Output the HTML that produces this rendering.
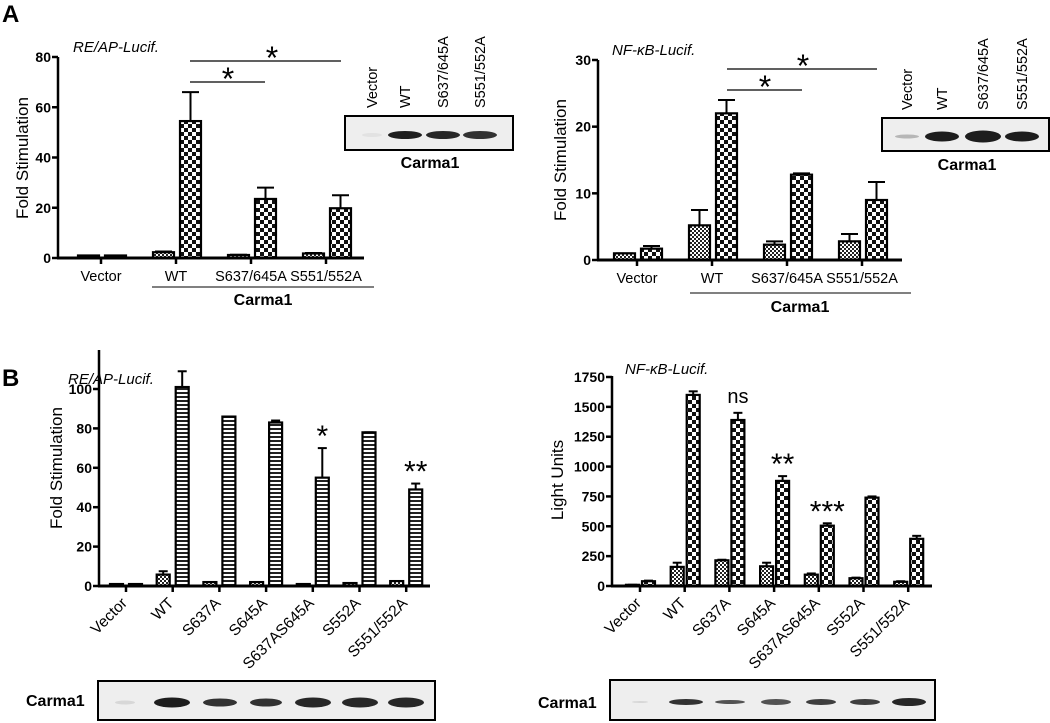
<!DOCTYPE html>
<html><head><meta charset="utf-8"><style>
body{margin:0;background:#fff;}
svg{display:block;font-family:"Liberation Sans",Arial,sans-serif;}
</style></head><body>
<svg id="fig" width="1050" height="723" viewBox="0 0 1050 723" xmlns="http://www.w3.org/2000/svg">
<defs>
<pattern id="fine" width="4" height="4" patternUnits="userSpaceOnUse"><rect width="4" height="4" fill="#fff"/><rect width="2" height="2" fill="#222"/><rect x="2" y="2" width="2" height="2" fill="#222"/></pattern>
<pattern id="check" width="8" height="8" patternUnits="userSpaceOnUse"><rect width="8" height="8" fill="#fff"/><rect width="4" height="4" fill="#111"/><rect x="4" y="4" width="4" height="4" fill="#111"/></pattern>
<pattern id="stripe" width="4" height="4" patternUnits="userSpaceOnUse"><rect width="4" height="4" fill="#fff"/><rect width="4" height="2" fill="#222"/></pattern>
</defs>
<text x="2" y="22" font-size="24" font-weight="bold">A</text>
<text x="2" y="386" font-size="24" font-weight="bold">B</text>
</svg>
<script>
// ---- Chart A1 data ----
const a1Cats = ["Vector","WT","S637/645A","S551/552A"];
const a1S1 = [1, 2.3, 1.2, 1.8];
const a1S1Err = [1, 2.6, 1.3, 2.0];
const a1S2 = [1, 54.5, 23.5, 19.8];
const a1S2Err = [1, 66, 28, 25];
const a1Ticks = [0,20,40,60,80];
// ---- Chart A2 data ----
const a2Cats = ["Vector","WT","S637/645A","S551/552A"];
const a2S1 = [1, 5.2, 2.3, 2.8];
const a2S1Err = [1, 7.5, 2.8, 3.9];
const a2S2 = [1.7, 22, 12.8, 9];
const a2S2Err = [2.1, 24, 13, 11.7];
const a2Ticks = [0,10,20,30];
// ---- Chart B1 data ----
const b1Cats = ["Vector","WT","S637A","S645A","S637AS645A","S552A","S551/552A"];
const b1S1 = [1, 5.8, 2, 2, 1, 1.5, 2.5];
const b1S1Err = [1, 7.5, 2, 2, 1, 1.5, 2.5];
const b1S2 = [1, 101, 86, 83, 55, 78, 49];
const b1S2Err = [1, 109, 86, 84, 70, 78, 52];
const b1Sig = ["","","","","*","","**"];
const b1Ticks = [0,20,40,60,80,100];
// ---- Chart B2 data ----
const b2Cats = ["Vector","WT","S637A","S645A","S637AS645A","S552A","S551/552A"];
const b2S1 = [10, 160, 215, 165, 95, 65, 35];
const b2S1Err = [10, 195, 220, 195, 105, 70, 40];
const b2S2 = [40, 1600, 1390, 880, 505, 740, 395];
const b2S2Err = [45, 1630, 1450, 920, 525, 750, 420];
const b2Sig = ["","","ns","**","***","",""];
const b2Ticks = [0,250,500,750,1000,1250,1500,1750];

const NS="http://www.w3.org/2000/svg";
const svg=document.getElementById('fig');
function el(tag,attrs,parent,txt){const e=document.createElementNS(NS,tag);for(const k in attrs)e.setAttribute(k,attrs[k]);if(txt!==undefined)e.textContent=txt;(parent||svg).appendChild(e);return e;}

function chart(c){
  const g=el('g',{});
  
  
  const y=v=>c.y0-(v/c.ymax)*(c.y0-c.ytop);
  const x=i=>c.x0+c.gx+i*c.gs;
  c.cats.forEach((cat,i)=>{
    const cx=x(i);
    [[c.s1,c.e1,c.p1,c.b1],[c.s2,c.e2,c.p2,c.b2]].forEach((s,k)=>{
      const [vals,errs,pat,off]=s;
      const bx=cx+off, top=y(vals[i]), ey=y(errs[i]);
      const ln=el('line',{x1:bx+c.bw/2,x2:bx+c.bw/2,y1:top,y2:ey,stroke:'#000','stroke-width':2},g);
      
      
      const cap=el('line',{x1:bx+2,x2:bx+c.bw-2,y1:ey,y2:ey,stroke:'#000','stroke-width':2},g);
      
      
      const r=el('rect',{x:bx,y:top,width:c.bw,height:Math.max(c.y0-top,1.5),fill:`url(#${pat})`,stroke:'#000','stroke-width':2.2},g);
      
      
    });
    if(c.sig&&c.sig[i]){
      const isNs=c.sig[i]==='ns';
      const t=el('text',{x:cx+c.b2+c.bw/2,y:y(c.e2[i])-(isNs?10:2),'font-size':isNs?20:30,'text-anchor':'middle'},g,c.sig[i]);
      
      
    }
    el('line',{x1:cx,x2:cx,y1:c.y0,y2:c.y0+6,stroke:'#000','stroke-width':2.5},g);
    if(c.rot){
      const t=el('text',{x:cx+2,y:c.y0+18,'font-size':15.5,'text-anchor':'end',transform:`rotate(-45 ${cx+2} ${c.y0+18})`},g,cat);
      
      
    } else {
      const t=el('text',{x:cx,y:c.y0+23,'font-size':14.5,'text-anchor':'middle'},g,cat);
      
      
    }
  });
  el('line',{x1:c.x0,x2:c.x0,y1:c.axTop,y2:c.y0+1,stroke:'#000','stroke-width':2.5},g);
  el('line',{x1:c.x0-1,x2:c.xEnd,y1:c.y0,y2:c.y0,stroke:'#000','stroke-width':3},g);
  c.ticks.forEach(v=>{
    el('line',{x1:c.x0-6,x2:c.x0,y1:y(v),y2:y(v),stroke:'#000','stroke-width':2.5},g);
    const t=el('text',{x:c.x0-7,y:y(v)+5,'font-size':14,'font-weight':'bold','text-anchor':'end'},g,v);
    
    
  });
  const yt=el('text',{x:c.ylx,y:c.yly,'font-size':17,'text-anchor':'middle',transform:`rotate(-90 ${c.ylx} ${c.yly})`},g,c.ytitle);
  
  
  const tt=el('text',{x:c.tx,y:c.ty,'font-size':15,'font-style':'italic'},g,c.title);
  
  
}

chart({name:'chart-a-reap',cats:a1Cats,s1:a1S1,e1:a1S1Err,s2:a1S2,e2:a1S2Err,ticks:a1Ticks,ymax:80,y0:258,ytop:57,axTop:57,x0:58,xEnd:364,gx:43,gs:75,bw:21,b1:-23,b2:4,p1:'fine',p2:'check',ytitle:'Fold Stimulation',ylx:28,yly:158,title:'RE/AP-Lucif.',tx:73,ty:52});
chart({name:'chart-a-nfkb',cats:a2Cats,s1:a2S1,e1:a2S1Err,s2:a2S2,e2:a2S2Err,ticks:a2Ticks,ymax:30,y0:260,ytop:60,axTop:60,x0:598,xEnd:902,gx:39,gs:75,bw:21,b1:-23,b2:4,p1:'fine',p2:'check',ytitle:'Fold Stimulation',ylx:566,yly:160,title:'NF-κB-Lucif.',tx:612,ty:55});
chart({name:'chart-b-reap',cats:b1Cats,s1:b1S1,e1:b1S1Err,s2:b1S2,e2:b1S2Err,sig:b1Sig,ticks:b1Ticks,ymax:100,y0:586,ytop:389,axTop:350,x0:99,xEnd:430,gx:27,gs:46.7,bw:13,b1:-16,b2:3,p1:'fine',p2:'stripe',rot:true,ytitle:'Fold Stimulation',ylx:62,yly:468,title:'RE/AP-Lucif.',tx:68,ty:384});
chart({name:'chart-b-nfkb',cats:b2Cats,s1:b2S1,e1:b2S1Err,s2:b2S2,e2:b2S2Err,sig:b2Sig,ticks:b2Ticks,ymax:1750,y0:586,ytop:377,axTop:376,x0:612,xEnd:932,gx:28,gs:44.7,bw:13,b1:-14,b2:2,p1:'fine',p2:'check',rot:true,ytitle:'Light Units',ylx:563,yly:480,title:'NF-κB-Lucif.',tx:625,ty:374});

function bracket(x1,x2,yy,sx,name){
  const l=el('line',{x1:x1,x2:x2,y1:yy,y2:yy,stroke:'#000','stroke-width':1.2});
  
  
  const t=el('text',{x:sx,y:yy+8,'font-size':32,'text-anchor':'middle'},svg,'*');
  
  
}
bracket(190,341,61,272,'sig-bracket-a1-long');
bracket(190,265,82,228,'sig-bracket-a1-short');
bracket(727,877,69,803,'sig-bracket-a2-long');
bracket(727,802,90,765,'sig-bracket-a2-short');

function group(x1,x2,yl,ty,cx,name){
  el('line',{x1:x1,x2:x2,y1:yl,y2:yl,stroke:'#000','stroke-width':1});
  const t=el('text',{x:cx,y:ty,'font-size':16,'font-weight':'bold','text-anchor':'middle'},svg,'Carma1');
  
  
}
group(152,374,287,305,263,'group-label-a1');
group(690,911,293,312,800,'group-label-a2');

function blot(x,yb,w,h,bands,name){
  const r=el('rect',{x:x,y:yb,width:w,height:h,fill:'#eeeeee',stroke:'#000','stroke-width':2});
  
  
  bands.forEach(b=>{
    el('ellipse',{cx:b[0],cy:yb+h/2+2,rx:b[1],ry:b[2],fill:'#111','fill-opacity':b[3]});
  });
}
blot(345,116,168,34,[[372,10,2,0.05],[405,17,4,0.95],[443,17,4,0.9],[480,17,4,0.85]],'western-blot-a1');
blot(882,118,167,33,[[907,12,2,0.25],[942,17,5,0.95],[983,18,6,0.95],[1022,17,5,0.95]],'western-blot-a2');
blot(98,681,337,39,[[125,10,2,0.1],[172,18,5,0.95],[220,17,4,0.85],[266,16,4,0.85],[313,18,5,0.9],[360,18,5,0.9],[406,18,5,0.9]],'western-blot-b1');
blot(610,680,325,40,[[640,8,1,0.1],[686,17,3,0.85],[730,15,2,0.7],[776,15,3,0.7],[821,15,3,0.8],[865,15,3,0.8],[909,17,4,0.9]],'western-blot-b2');
function rot(x,y,s,name){
  const t=el('text',{x:x+5,y:y,'font-size':14.5,transform:`rotate(-90 ${x+5} ${y})`},svg,s);
  
  
}
[[372,'Vector'],[405,'WT'],[443,'S637/645A'],[480,'S551/552A']].forEach(a=>rot(a[0],108,a[1],'blot-lane-label'));
[[907,'Vector'],[942,'WT'],[983,'S637/645A'],[1022,'S551/552A']].forEach(a=>rot(a[0],110,a[1],'blot-lane-label'));
function lbl(x,y,anchor,name){
  const t=el('text',{x:x,y:y,'font-size':16,'font-weight':'bold','text-anchor':anchor},svg,'Carma1');
  
  
}
lbl(430,168,'middle','blot-label-a1');
lbl(967,170,'middle','blot-label-a2');
lbl(26,706,'start','blot-label-b1');
lbl(538,708,'start','blot-label-b2');
</script>
</body></html>
